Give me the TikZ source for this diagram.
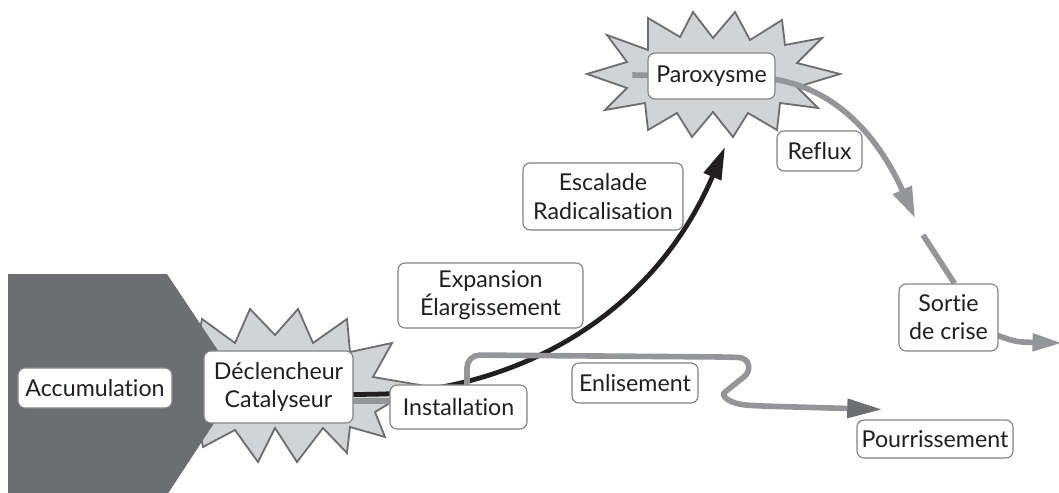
\documentclass[tikz,border=0pt]{standalone}
\usepackage{fontspec}
\setmainfont{Lato}[Ligatures={NoCommon}]
\usetikzlibrary{arrows.meta,calc}
\definecolor{sombre}{HTML}{6D6E71}
\definecolor{clair}{HTML}{D1D3D4}
\definecolor{trait}{HTML}{939598}
\definecolor{pointe}{HTML}{6D6E71}
\definecolor{bord}{HTML}{808285}
\definecolor{encre}{HTML}{231F20}
\pgfdeclarelayer{fond}
\pgfdeclarelayer{traits}
\pgfsetlayers{fond,traits,main}
\begin{document}
\begin{tikzpicture}[x=0.025cm,y=-0.025cm,
        boite/.style 2 args={draw=bord,line width=0.8pt,fill=white,rounded corners=5pt,
            align=center,text=encre,font=\fontsize{16.5}{20}\selectfont,inner sep=0pt,
            minimum width=#1cm,minimum height=#2cm},
        eclat/.style={fill=clair,draw=sombre,line width=1.3pt},
        fleche/.style={draw=trait,line width=4pt}]
    \useasboundingbox (0,0) rectangle (1059,493);

    \node[boite={3.85}{1.0}] (accu) at (95,388) {Accumulation};
    \node[boite={3.725}{1.8}] (decl) at (278.5,387) {Déclencheur\\Catalyseur};
    \node[boite={3.425}{1.1}] (instal) at (458.5,407) {Installation};
    \node[boite={4.625}{1.625}] (expan) at (490.5,295.5) {Expansion\\Élargissement};
    \node[boite={4.0}{1.675}] (escal) at (603,196.5) {Escalade\\Radicalisation};
    \node[boite={3.175}{1.15}] (parox) at (711.5,76) {Paroxysme};
    \node[boite={2.125}{1.0}] (reflux) at (819.5,151) {Reflux};
    \node[boite={2.475}{1.675}] (sortie) at (948.5,317.5) {Sortie\\de crise};
    \node[boite={3.15}{1.0}] (enlis) at (635,383) {Enlisement};
    \node[boite={3.9}{0.95}] (pourr) at (935,439) {Pourrissement};

    \coordinate (sommet) at (725,147);
    \coordinate (creux) at (915,218);
    \coordinate (reprise) at (923,235);
    \coordinate (sortieFin) at (1062,343);

    % fond : eclats et bloc d'accumulation
    \begin{pgfonlayer}{fond}
        \draw[eclat] (202,319) -- (235,343) -- (250,309) -- (275,335) -- (298,309) -- (313,343)
            -- (347,319) -- (350,352) -- (392,343) -- (373,377) -- (420,385) -- (375,412)
            -- (385,437) -- (350,427) -- (347,453) -- (323,428) -- (297,462) -- (275,428)
            -- (258,462) -- (235,430) -- (203,447) -- (190,383) -- cycle;
        \fill[sombre] (8,274) -- (167,274) -- (240,383.5) -- (167,495) -- (8,495) -- cycle;
        \draw[eclat] (587,74) -- (627,62) -- (607,35) -- (648,50) -- (648,18) -- (680,37)
            -- (693,12) -- (713,38) -- (735,12) -- (750,40) -- (782,20) -- (785,45)
            -- (822,38) -- (797,63) -- (840,74) -- (797,87) -- (818,108) -- (780,103)
            -- (777,130) -- (748,113) -- (733,137) -- (713,112) -- (692,137) -- (677,113)
            -- (648,130) -- (645,103) -- (605,110) -- (627,88) -- cycle;
    \end{pgfonlayer}

    % trajectoires
    \begin{pgfonlayer}{traits}
        \draw[encre,line width=3.4pt,-{Triangle[length=23pt,width=13pt]}]
            ($(decl.east)+(-20,8)$) -- ($(instal.west)+(-5,-13)$)
            .. controls (540,385) and (660,300) .. (sommet);
        \draw[fleche,rounded corners=9pt,-{Triangle[length=25pt,width=13pt,color=pointe]}]
            ($(decl.east)+(-20,14)$) -- ($(instal.center)+(8.5,-6)$) -- (467,355) -- (725,357)
            .. controls (752,358) and (750,372) .. (735,384)
            .. controls (720,396) and (730,404) .. (760,406) -- ($(pourr.north west)+(26,-10)$);
        \draw[fleche,-{Triangle[length=22pt,width=14pt]}]
            ($(parox.west)+(-15,-1)$) -- ($(parox.east)+(-10,2)$)
            .. controls (830,85) and (875,130) .. (creux);
        \draw[fleche] (reprise) -- ($(sortie.north)+(6,0)$);
        \draw[fleche,-{Triangle[length=21pt,width=12pt]}]
            ($(sortie.east)+(-10,14.5)$) .. controls (1015,342) .. (sortieFin);
    \end{pgfonlayer}
\end{tikzpicture}
\end{document}
